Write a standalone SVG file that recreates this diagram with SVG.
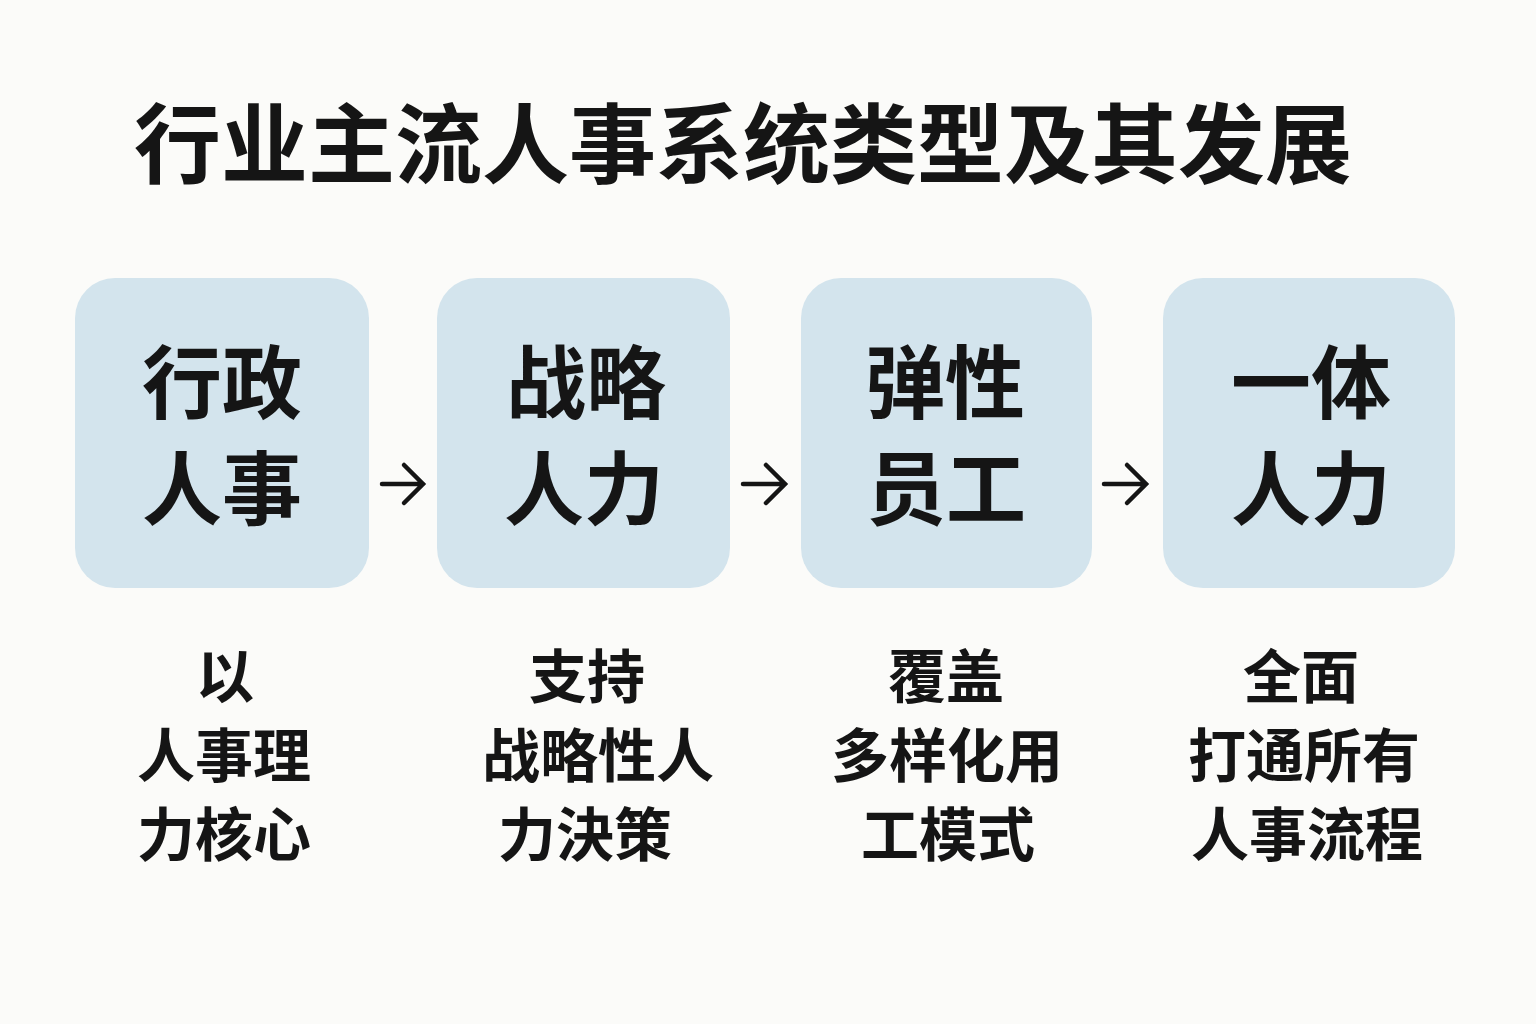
<svg xmlns="http://www.w3.org/2000/svg" width="1536" height="1024" viewBox="0 0 1536 1024">
<defs>
<style>
.bg{fill:#fbfbf9}
.title{font-family:"Noto Sans CJK SC","Noto Sans",sans-serif;font-size:87px;font-weight:700;fill:#151515}
.box{fill:#d3e4ed}
.bt{font-family:"Noto Sans CJK SC","Noto Sans",sans-serif;font-size:80px;font-weight:700;fill:#151515;text-anchor:middle}
.st{font-family:"Noto Sans CJK SC","Noto Sans",sans-serif;font-size:58px;font-weight:700;fill:#151515;text-anchor:middle}
.conn{stroke:#151515;stroke-width:4.5;fill:none;stroke-linecap:round;stroke-linejoin:miter}
</style>
</defs>
<rect class="bg" x="0" y="0" width="1536" height="1024"/>
<text class="title" x="134" y="177">行业主流人事系统类型及其发展</text>

<g id="node1">
<rect class="box" x="75" y="278" width="294" height="310" rx="40"/>
<text class="bt" x="222" y="412">行政</text>
<text class="bt" x="222" y="518">人事</text>
<text class="st" x="225" y="698">以</text>
<text class="st" x="224" y="777">人事理</text>
<text class="st" x="224" y="856">力核心</text>
</g>

<g id="node2">
<rect class="box" x="437" y="278" width="293" height="310" rx="40"/>
<text class="bt" x="586" y="412">战略</text>
<text class="bt" x="584" y="518">人力</text>
<text class="st" x="587" y="698">支持</text>
<text class="st" x="598" y="777">战略性人</text>
<text class="st" x="585" y="856">力決策</text>
</g>

<g id="node3">
<rect class="box" x="801" y="278" width="291" height="310" rx="40"/>
<text class="bt" x="945" y="412">弹性</text>
<text class="bt" x="946" y="518">员工</text>
<text class="st" x="946" y="698">覆盖</text>
<text class="st" x="947" y="777">多样化用</text>
<text class="st" x="948" y="856">工模式</text>
</g>

<g id="node4">
<rect class="box" x="1163" y="278" width="292" height="310" rx="40"/>
<text class="bt" x="1311" y="412">一体</text>
<text class="bt" x="1311" y="518">人力</text>
<text class="st" x="1301" y="698">全面</text>
<text class="st" x="1304" y="777">打通所有</text>
<text class="st" x="1307" y="856">人事流程</text>
</g>

<g id="connectors">
<path class="conn" d="M382 484 H423 M404 465 L423 484 L404 503"/>
<path class="conn" d="M743 484 H785 M766 465 L785 484 L766 503"/>
<path class="conn" d="M1104 484 H1146 M1127 465 L1146 484 L1127 503"/>
</g>
</svg>
